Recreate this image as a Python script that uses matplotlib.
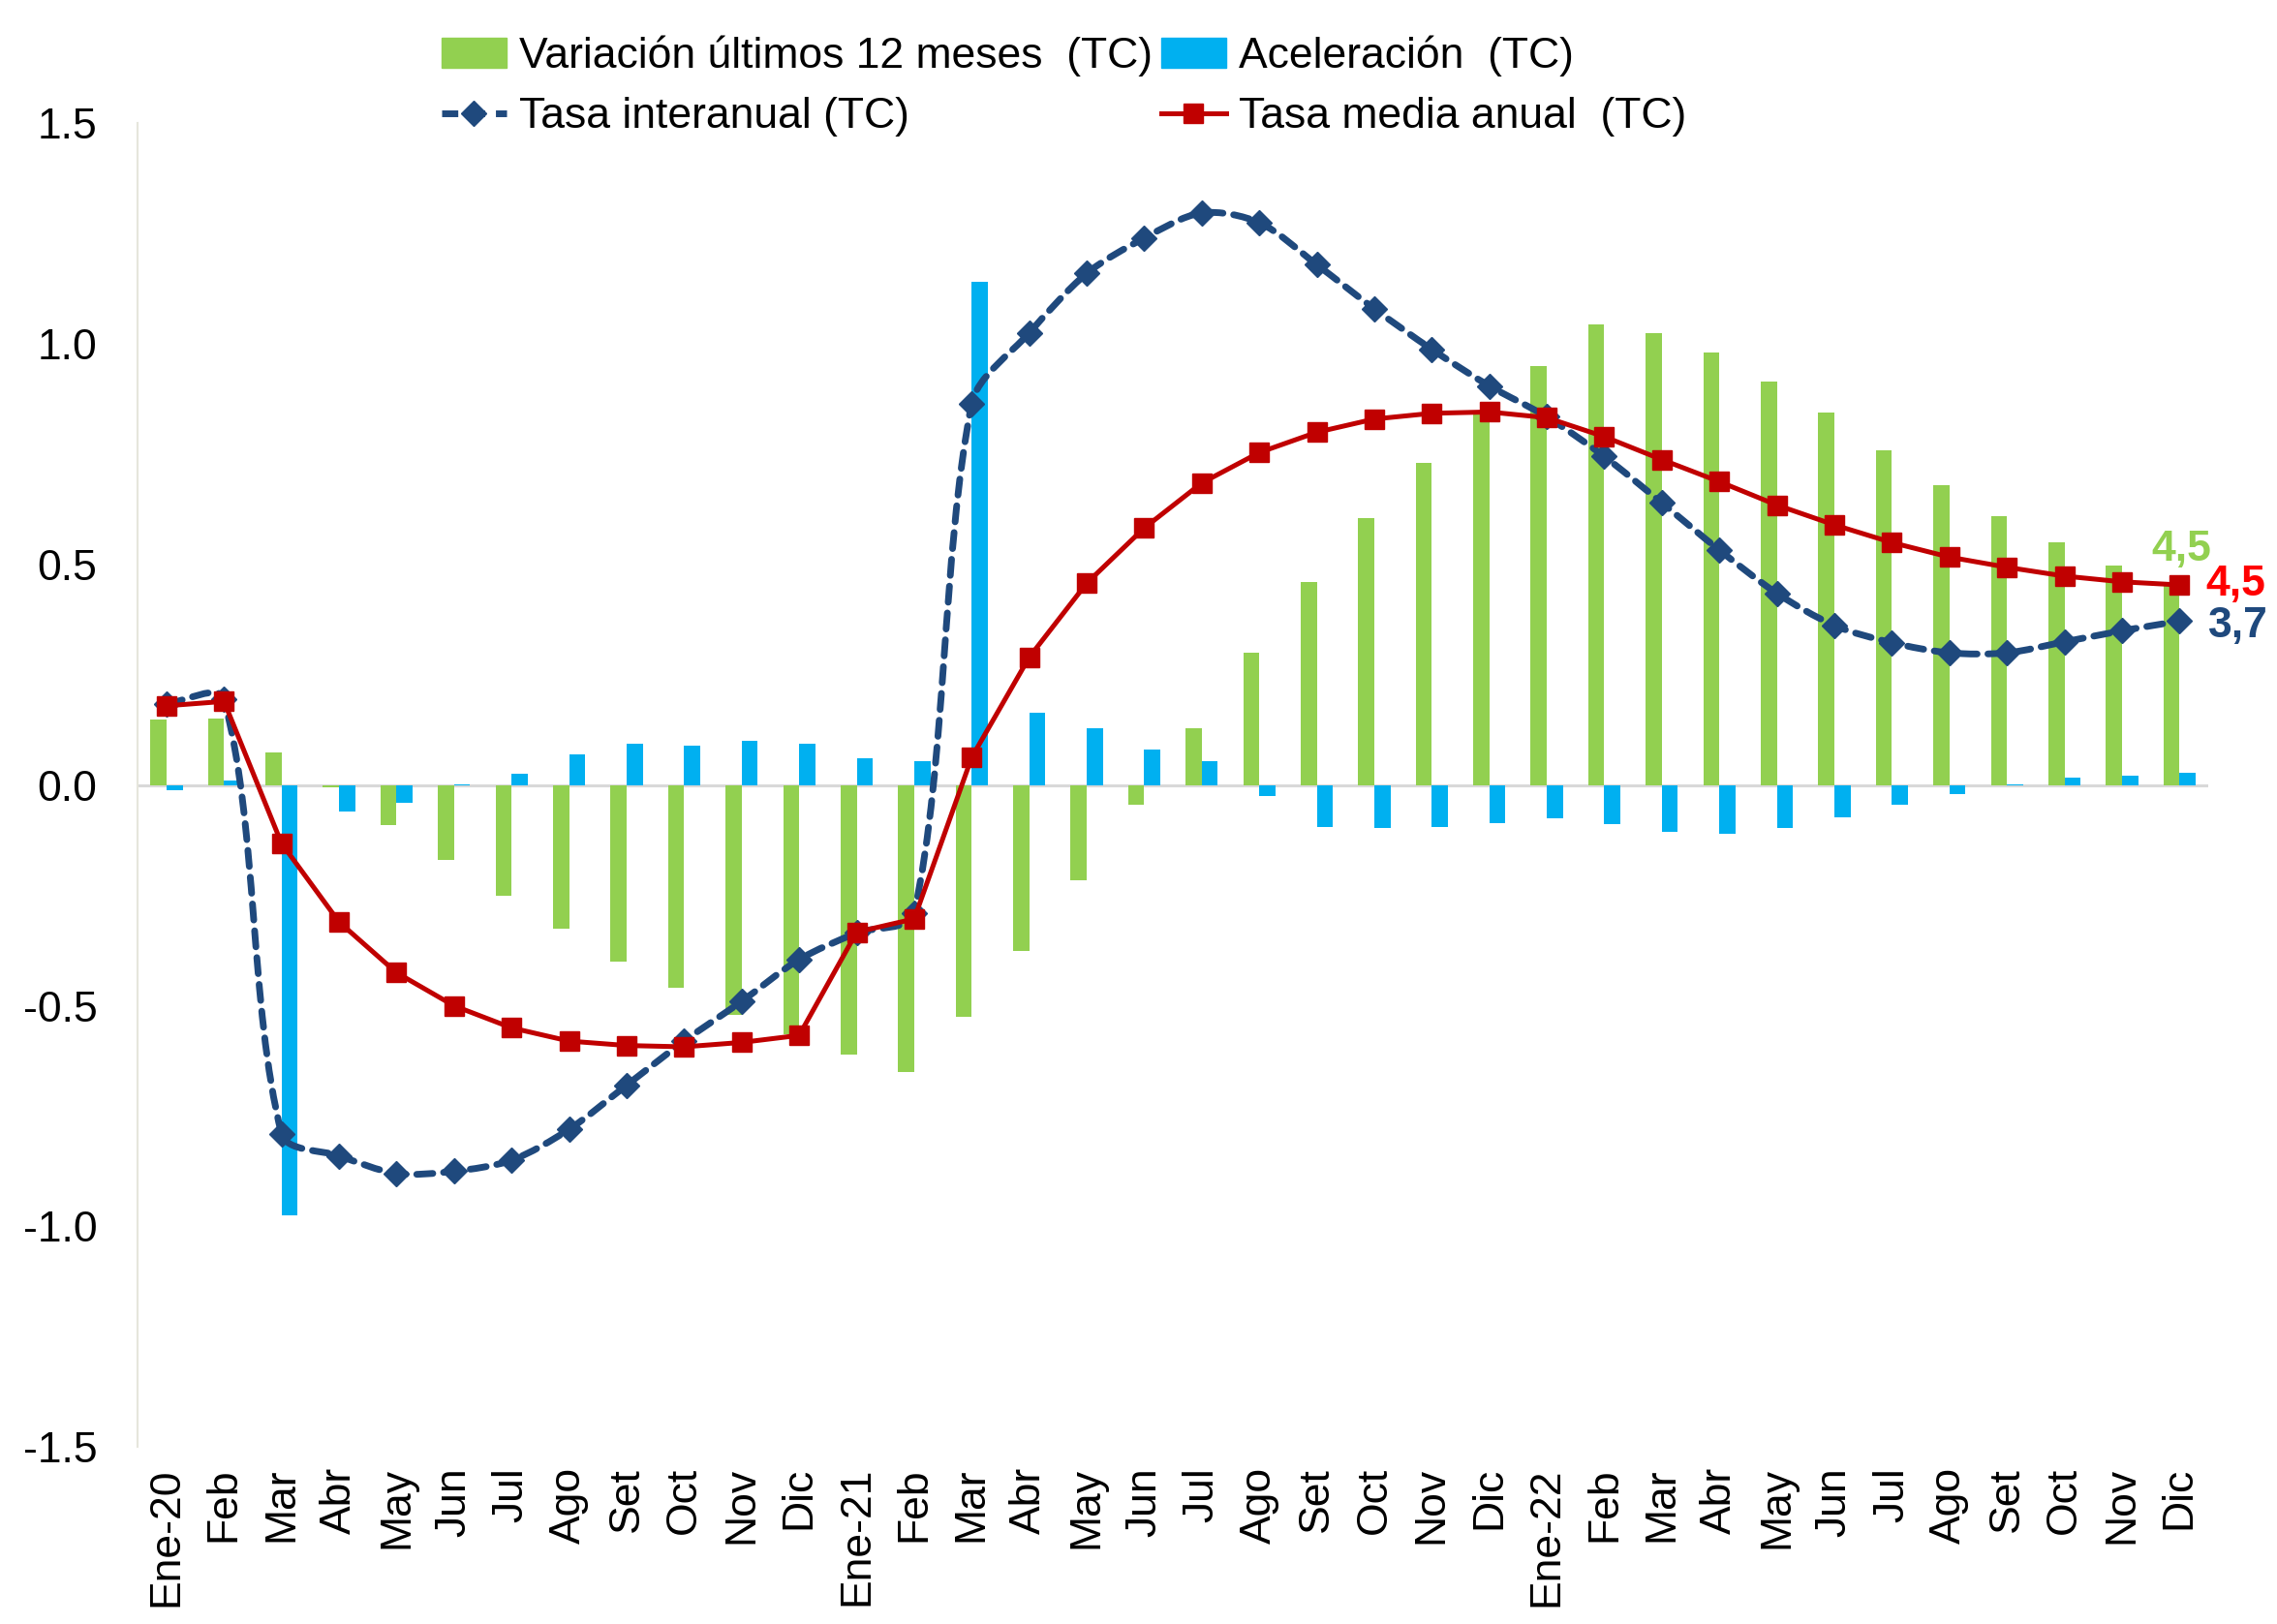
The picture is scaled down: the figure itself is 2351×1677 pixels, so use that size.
import numpy as np
import matplotlib
matplotlib.use("Agg")
import matplotlib.pyplot as plt
from matplotlib.path import Path
from matplotlib.patches import PathPatch, Patch
from matplotlib.lines import Line2D

plt.rcParams['font.family'] = ['Liberation Sans', 'DejaVu Sans']

meses = ["Ene-20", "Feb", "Mar", "Abr", "May", "Jun", "Jul", "Ago", "Set", "Oct", "Nov", "Dic",
         "Ene-21", "Feb", "Mar", "Abr", "May", "Jun", "Jul", "Ago", "Set", "Oct", "Nov", "Dic",
         "Ene-22", "Feb", "Mar", "Abr", "May", "Jun", "Jul", "Ago", "Set", "Oct", "Nov", "Dic"]

variacion_12m = [0.148, 0.15, 0.075, -0.005, -0.09, -0.17, -0.25, -0.325, -0.40, -0.46, -0.52, -0.565,
                 -0.61, -0.65, -0.525, -0.375, -0.215, -0.045, 0.13, 0.30, 0.46, 0.605, 0.73, 0.845,
                 0.95, 1.045, 1.025, 0.98, 0.915, 0.845, 0.76, 0.68, 0.61, 0.55, 0.497, 0.455]

aceleracion = [-0.012, 0.01, -0.975, -0.06, -0.04, 0.002, 0.025, 0.07, 0.095, 0.09, 0.10, 0.095,
               0.06, 0.055, 1.14, 0.165, 0.13, 0.08, 0.055, -0.025, -0.095, -0.098, -0.095, -0.085,
               -0.075, -0.088, -0.105, -0.11, -0.098, -0.072, -0.045, -0.02, 0.002, 0.018, 0.022, 0.028]

tasa_interanual = [0.185, 0.195, -0.79, -0.84, -0.88, -0.875, -0.85, -0.78, -0.68, -0.58, -0.49, -0.395,
                   -0.335, -0.29, 0.865, 1.025, 1.16, 1.24, 1.297, 1.275, 1.18, 1.08, 0.988, 0.905,
                   0.835, 0.745, 0.64, 0.533, 0.435, 0.362, 0.323, 0.30, 0.30, 0.325, 0.35, 0.372]

tasa_media = [0.18, 0.19, -0.132, -0.31, -0.425, -0.50, -0.55, -0.58, -0.59, -0.593, -0.583, -0.567,
              -0.333, -0.303, 0.063, 0.29, 0.458, 0.583, 0.685, 0.754, 0.80, 0.83, 0.843, 0.846,
              0.833, 0.79, 0.738, 0.688, 0.635, 0.59, 0.55, 0.517, 0.494, 0.474, 0.461, 0.454]

etiquetas_fin = ["4,5", "4,5", "3,7"]

verde = "#92D050"
celeste = "#00B0F0"
azul = "#1F497D"
rojo = "#C00000"


def smooth_path(xs, ys, yscale=7.67, t=0.3):
    # linea suavizada tipo Excel: bezier con tangentes segun largo de cuerda
    pts = np.column_stack([np.asarray(xs, float), np.asarray(ys, float) * yscale])
    n = len(pts)
    dirs = []
    for i in range(n):
        a = pts[max(i - 1, 0)]
        b = pts[min(i + 1, n - 1)]
        d = b - a
        dirs.append(d / np.hypot(*d))
    verts = [pts[0]]
    codes = [Path.MOVETO]
    for i in range(n - 1):
        L = np.hypot(*(pts[i + 1] - pts[i]))
        verts += [pts[i] + dirs[i] * L * t, pts[i + 1] - dirs[i + 1] * L * t, pts[i + 1]]
        codes += [Path.CURVE4] * 3
    verts = np.array(verts)
    verts[:, 1] /= yscale
    return Path(verts, codes)


fig = plt.figure(figsize=(23.51, 16.77), dpi=100)
ax = fig.add_axes([0.0605, 0.109, 0.9093, 0.815])

x = np.arange(len(meses))
w = 0.28
ax.bar(x - w / 2, variacion_12m, width=w, color=verde, zorder=2)
ax.bar(x + w / 2, aceleracion, width=w, color=celeste, zorder=2)
ax.axhline(0, color="#d9d9d9", lw=2.2, zorder=1)

patch = PathPatch(smooth_path(x, tasa_interanual), fill=False, edgecolor=azul, lw=5,
                  linestyle=(0, (2.4, 1.6)), capstyle='round', zorder=3)
ax.add_patch(patch)
ax.plot(x, tasa_interanual, ls='none', marker='D', ms=13, color=azul, zorder=4)
ax.plot(x, tasa_media, color=rojo, lw=3.6, marker='s', ms=14, zorder=5)

ax.set_xlim(-0.5, len(meses) - 0.5)
ax.set_ylim(-1.5, 1.5)
ax.set_yticks([-1.5, -1.0, -0.5, 0.0, 0.5, 1.0, 1.5])
ax.set_yticklabels([f"{v:.1f}" for v in [-1.5, -1.0, -0.5, 0.0, 0.5, 1.0, 1.5]])
ax.set_xticks(x)
ax.set_xticklabels(meses, rotation=90)
ax.tick_params(axis='x', length=0, pad=15, labelsize=32)
ax.tick_params(axis='y', length=0, pad=30, labelsize=32)

for s in ["top", "right", "bottom"]:
    ax.spines[s].set_visible(False)
ax.spines["left"].set_color("#e6e6dc")
ax.spines["left"].set_linewidth(1.5)

# etiquetas finales
last = len(meses) - 1
ax.annotate(etiquetas_fin[0], xy=(last, variacion_12m[last]), xytext=(2, 36),
            textcoords='offset pixels', ha='center', va='center', fontsize=32,
            fontweight='bold', color=verde)
ax.annotate(etiquetas_fin[1], xy=(last, tasa_media[last]), xytext=(27, 0),
            textcoords='offset pixels', ha='left', va='center', fontsize=32,
            fontweight='bold', color="#FF0000")
ax.annotate(etiquetas_fin[2], xy=(last, tasa_interanual[last]), xytext=(30, -5),
            textcoords='offset pixels', ha='left', va='center', fontsize=32,
            fontweight='bold', color=azul)

handles = [Patch(color=verde),
           Line2D([], [], color=azul, lw=5, ls=(0, (2.4, 1.6)), marker='D', ms=13),
           Patch(color=celeste),
           Line2D([], [], color=rojo, lw=3.6, marker='s', ms=14)]
labels = ["Variación últimos 12 meses  (TC)", "Tasa interanual (TC)",
          "Aceleración  (TC)", "Tasa media anual  (TC)"]
fig.legend(handles, labels, ncol=2, loc='upper left', bbox_to_anchor=(0.194, 0.978),
           frameon=False, fontsize=32, handlelength=1.5, handletextpad=0.3,
           columnspacing=0.2, labelspacing=0.47, borderaxespad=0, borderpad=0)

fig.savefig("out.png", dpi=100)
